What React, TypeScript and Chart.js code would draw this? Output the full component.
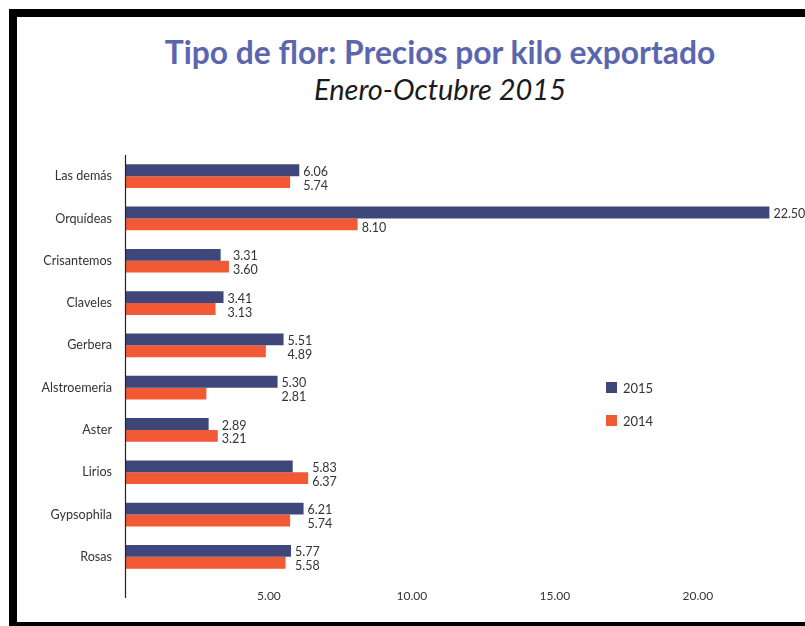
import React, { useEffect, useRef } from 'react';
import { Chart, registerables } from 'chart.js';

Chart.register(...registerables);

const categories = ['Las demás', 'Orquídeas', 'Crisantemos', 'Claveles', 'Gerbera', 'Alstroemeria', 'Aster', 'Lirios', 'Gypsophila', 'Rosas'];
const values2015 = [6.06, 22.5, 3.31, 3.41, 5.51, 5.3, 2.89, 5.83, 6.21, 5.77];
const values2014 = [5.74, 8.1, 3.6, 3.13, 4.89, 2.81, 3.21, 6.37, 5.74, 5.58];
const seriesNames = ['2015', '2014'];
const xTickValues = [5, 10, 15, 20];

const COLOR_2015 = '#3F4679';
const COLOR_2014 = '#F25935';
const FONT = 'Lato, "Open Sans", sans-serif';

const labelPlugin = {
  id: 'barValueLabels',
  afterDatasetsDraw(chart: any) {
    const ctx = chart.ctx;
    const m0 = chart.getDatasetMeta(0);
    const m1 = chart.getDatasetMeta(1);
    const d0 = chart.data.datasets[0].data as number[];
    const d1 = chart.data.datasets[1].data as number[];
    ctx.save();
    ctx.font = '12.5px ' + FONT;
    ctx.fillStyle = '#333333';
    ctx.textAlign = 'left';
    ctx.textBaseline = 'middle';
    for (let i = 0; i < d0.length; i++) {
      const e0 = m0.data[i];
      const e1 = m1.data[i];
      let x0 = e0.x;
      let x1 = e1.x;
      if (Math.abs(d0[i] - d1[i]) < 3) {
        const mx = Math.max(x0, x1);
        x0 = mx;
        x1 = mx;
      }
      ctx.fillText(d0[i].toFixed(2), x0 + 4, e0.y + 1.5);
      ctx.fillText(d1[i].toFixed(2), x1 + 4, e1.y + 3.5);
    }
    // vertical axis line
    const a = chart.chartArea;
    ctx.strokeStyle = '#222222';
    ctx.lineWidth = 1.2;
    ctx.beginPath();
    ctx.moveTo(a.left - 0.5, a.top);
    ctx.lineTo(a.left - 0.5, a.bottom + 20);
    ctx.stroke();
    ctx.restore();
  },
};

export default function App() {
  const ref = useRef<HTMLCanvasElement>(null);

  useEffect(() => {
    if (!ref.current) return;
    const chart = new Chart(ref.current, {
      type: 'bar',
      data: {
        labels: categories,
        datasets: [
          {
            label: seriesNames[0],
            data: values2015,
            backgroundColor: COLOR_2015,
            categoryPercentage: 0.56,
            barPercentage: 1,
          },
          {
            label: seriesNames[1],
            data: values2014,
            backgroundColor: COLOR_2014,
            categoryPercentage: 0.56,
            barPercentage: 1,
          },
        ],
      },
      options: {
        indexAxis: 'y',
        animation: false,
        responsive: false,
        maintainAspectRatio: false,
        layout: { padding: { top: 155, bottom: 18, left: 0, right: 7 } },
        plugins: {
          legend: { display: false },
          tooltip: { enabled: false },
          title: { display: false },
        },
        scales: {
          x: {
            type: 'linear',
            min: 0,
            max: 23.5,
            grid: { display: false, drawTicks: false },
            border: { display: false },
            afterBuildTicks: (scale: any) => {
              scale.ticks = xTickValues.map((v) => ({ value: v }));
            },
            afterFit: (scale: any) => {
              scale.height = 30;
            },
            ticks: {
              padding: 11,
              color: '#333333',
              font: { family: FONT, size: 12 },
              maxRotation: 0,
              autoSkip: false,
              callback: (v: any) => Number(v).toFixed(2),
            },
          },
          y: {
            type: 'category',
            grid: { display: false, drawTicks: false },
            border: { display: false },
            afterFit: (scale: any) => {
              scale.width = 126;
            },
            ticks: {
              padding: 14,
              color: '#333333',
              font: { family: FONT, size: 12.6 },
              autoSkip: false,
            },
          },
        },
      },
      plugins: [labelPlugin],
    });
    return () => chart.destroy();
  }, []);

  return (
    <div style={{ position: 'fixed', left: 0, top: 0, width: 805, height: 626, overflow: 'hidden', background: '#fff' }}>
      <div
        style={{
          position: 'absolute',
          left: 9,
          top: 9,
          width: 900,
          height: 605,
          borderTop: '8px solid #000',
          borderLeft: '8px solid #000',
          borderBottom: '8px solid #000',
        }}
      />
      <div
        style={{
          position: 'absolute',
          left: 0,
          width: 880,
          top: 33,
          textAlign: 'center',
          fontFamily: FONT,
          fontWeight: 'bold',
          fontSize: 31.8,
          lineHeight: '38px',
          color: '#5C66AE',
        }}
      >
        Tipo de flor: Precios por kilo exportado
      </div>
      <div
        style={{
          position: 'absolute',
          left: 0,
          width: 880,
          top: 71,
          textAlign: 'center',
          fontFamily: FONT,
          fontStyle: 'italic',
          fontSize: 29,
          lineHeight: '36px',
          color: '#1a1a1a',
        }}
      >
        Enero-Octubre 2015
      </div>
      <canvas ref={ref} width={805} height={626} style={{ position: 'absolute', left: 0, top: 0, width: 805, height: 626 }} />
      <div style={{ position: 'absolute', left: 606, top: 382, width: 11, height: 11, background: COLOR_2015 }} />
      <div style={{ position: 'absolute', left: 623, top: 379, fontFamily: FONT, fontSize: 13, lineHeight: '18px', color: '#333' }}>
        {seriesNames[0]}
      </div>
      <div style={{ position: 'absolute', left: 606, top: 415, width: 11, height: 11, background: COLOR_2014 }} />
      <div style={{ position: 'absolute', left: 623, top: 412, fontFamily: FONT, fontSize: 13, lineHeight: '18px', color: '#333' }}>
        {seriesNames[1]}
      </div>
    </div>
  );
}
